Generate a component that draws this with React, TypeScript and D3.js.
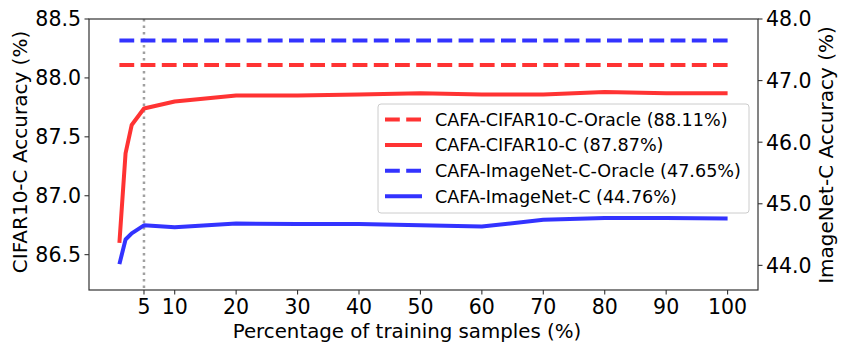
import React from 'react';
import * as d3 from 'd3';

// training fraction (%) on x
const xs = [1, 2, 3, 5, 10, 20, 30, 40, 50, 60, 70, 80, 90, 100];
// CIFAR10-C accuracy (left axis)
const cifarAcc = [86.6, 87.36, 87.6, 87.74, 87.8, 87.85, 87.85, 87.86, 87.87, 87.86, 87.86, 87.88, 87.87, 87.87];
// ImageNet-C accuracy (right axis)
const imagenetAcc = [44.02, 44.42, 44.52, 44.65, 44.62, 44.68, 44.67, 44.67, 44.65, 44.63, 44.74, 44.77, 44.77, 44.76];
const cifarOracle = 88.11;
const imagenetOracle = 47.65;

const xTicks = [5, 10, 20, 30, 40, 50, 60, 70, 80, 90, 100];
const leftTicks = [86.5, 87.0, 87.5, 88.0, 88.5];
const rightTicks = [44.0, 45.0, 46.0, 47.0, 48.0];
const legendItems = [
  { label: 'CAFA-CIFAR10-C-Oracle (88.11%)', color: '#ff3333', dashed: true },
  { label: 'CAFA-CIFAR10-C (87.87%)', color: '#ff3333', dashed: false },
  { label: 'CAFA-ImageNet-C-Oracle (47.65%)', color: '#3333ff', dashed: true },
  { label: 'CAFA-ImageNet-C (44.76%)', color: '#3333ff', dashed: false },
];

const W = 847, H = 353;
const M = { left: 89, right: 758, top: 19, bottom: 290 };
const FONT = '"DejaVu Sans", sans-serif';
const RED = '#ff3333';
const BLUE = '#3333ff';
const DASH = '14.8,6.4';

export default function App() {
  const x = d3.scaleLinear().domain([-3.95, 104.95]).range([M.left, M.right]);
  const yL = d3.scaleLinear().domain([86.2, 88.5]).range([M.bottom, M.top]);
  const yR = d3.scaleLinear().domain([43.6, 48.0]).range([M.bottom, M.top]);

  const lineL = d3.line<number>().x((_, i) => x(xs[i])).y(d => yL(d));
  const lineR = d3.line<number>().x((_, i) => x(xs[i])).y(d => yR(d));
  const x0 = x(xs[0]), x1 = x(xs[xs.length - 1]);

  const lg = { x: 378, y: 104, w: 371, h: 109, row0: 119.5, step: 25.6 };

  return (
    <svg width={W} height={H} style={{ position: 'absolute', left: 0, top: 0, background: '#fff' }}>
      <defs>
        <clipPath id="plot">
          <rect x={M.left} y={M.top} width={M.right - M.left} height={M.bottom - M.top} />
        </clipPath>
      </defs>
      <g clipPath="url(#plot)">
        <line x1={x(5)} x2={x(5)} y1={M.top} y2={M.bottom} stroke="#a0a0a0" strokeWidth={2.5} strokeDasharray="2.5,4" />
        <line x1={x0} x2={x1} y1={yL(cifarOracle)} y2={yL(cifarOracle)} stroke={RED} strokeWidth={4} strokeDasharray={DASH} />
        <line x1={x0} x2={x1} y1={yR(imagenetOracle)} y2={yR(imagenetOracle)} stroke={BLUE} strokeWidth={4} strokeDasharray={DASH} />
        <path d={lineL(cifarAcc) || ''} fill="none" stroke={RED} strokeWidth={4} strokeLinejoin="round" />
        <path d={lineR(imagenetAcc) || ''} fill="none" stroke={BLUE} strokeWidth={4} strokeLinejoin="round" />
      </g>
      <rect x={M.left} y={M.top} width={M.right - M.left} height={M.bottom - M.top} fill="none" stroke="#333" strokeWidth={1.2} />

      {/* x axis */}
      {xTicks.map(t => (
        <g key={`x${t}`}>
          <line x1={x(t)} x2={x(t)} y1={M.bottom} y2={M.bottom + 4.5} stroke="#333" strokeWidth={1.1} />
          <text x={x(t)} y={314} textAnchor="middle" fontFamily={FONT} fontSize={20.5}>{t}</text>
        </g>
      ))}
      <text x={407} y={338} textAnchor="middle" fontFamily={FONT} fontSize={19.8}>Percentage of training samples (%)</text>

      {/* left axis */}
      {leftTicks.map(t => (
        <g key={`l${t}`}>
          <line x1={M.left - 4.5} x2={M.left} y1={yL(t)} y2={yL(t)} stroke="#333" strokeWidth={1.1} />
          <text x={M.left - 8} y={yL(t)} dy="0.36em" textAnchor="end" fontFamily={FONT} fontSize={20.5}>{t.toFixed(1)}</text>
        </g>
      ))}
      <text transform={`translate(27,152) rotate(-90)`} textAnchor="middle" fontFamily={FONT} fontSize={20}>CIFAR10-C Accuracy (%)</text>

      {/* right axis */}
      {rightTicks.map(t => (
        <g key={`r${t}`}>
          <line x1={M.right} x2={M.right + 4.5} y1={yR(t)} y2={yR(t)} stroke="#333" strokeWidth={1.1} />
          <text x={M.right + 8} y={yR(t)} dy="0.36em" textAnchor="start" fontFamily={FONT} fontSize={20.5}>{t.toFixed(1)}</text>
        </g>
      ))}
      <text transform={`translate(833,155) rotate(-90)`} textAnchor="middle" fontFamily={FONT} fontSize={20}>ImageNet-C Accuracy (%)</text>

      {/* legend */}
      <rect x={lg.x} y={lg.y} width={lg.w} height={lg.h} rx={3} fill="#fff" fillOpacity={0.8} stroke="#cccccc" strokeWidth={1} />
      {legendItems.map((it, i) => {
        const cy = lg.row0 + i * lg.step;
        return (
          <g key={it.label}>
            <line x1={385} x2={422} y1={cy} y2={cy} stroke={it.color} strokeWidth={4} strokeDasharray={it.dashed ? DASH : undefined} />
            <text x={435} y={cy} dy="0.36em" fontFamily={FONT} fontSize={17.6}>{it.label}</text>
          </g>
        );
      })}
    </svg>
  );
}
